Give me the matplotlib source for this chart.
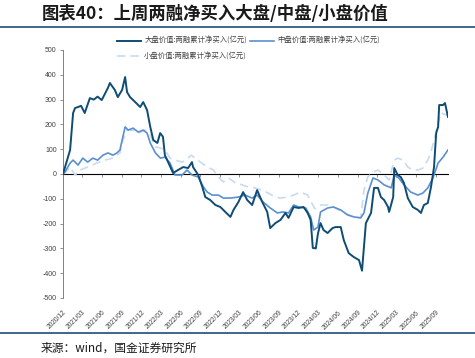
import matplotlib
matplotlib.use("Agg")
import matplotlib.pyplot as plt
import pandas as pd

plt.rcParams['font.family'] = ['Noto Sans CJK SC', 'DejaVu Sans']

title = "图表40：上周两融净买入大盘/中盘/小盘价值"
source = "来源：wind，国金证券研究所"
names = ["大盘价值:两融累计净买入(亿元)", "中盘价值:两融累计净买入(亿元)", "小盘价值:两融累计净买入(亿元)"]

large_dates = ["2020-12-01","2021-01-03","2021-01-17","2021-01-26","2021-02-09","2021-02-23","2021-03-12",
               "2021-04-05","2021-04-23","2021-05-11","2021-05-30","2021-06-28","2021-07-07","2021-07-30",
               "2021-08-13","2021-09-02","2021-09-16","2021-09-25","2021-10-09","2021-11-02","2021-11-25",
               "2021-12-09","2021-12-27","2022-01-11","2022-01-25","2022-02-13","2022-02-26","2022-03-11",
               "2022-03-20","2022-04-04","2022-04-27","2022-05-20","2022-06-13","2022-07-06","2022-07-24",
               "2022-07-29","2022-08-22","2022-09-10","2022-09-24","2022-10-17","2022-11-10","2022-12-03",
               "2022-12-26","2023-01-19","2023-02-02","2023-02-25","2023-03-19","2023-04-07","2023-04-30",
               "2023-05-23","2023-06-16","2023-07-09","2023-07-23","2023-08-16","2023-09-09","2023-10-02",
               "2023-10-16","2023-11-09","2023-12-02","2023-12-25","2024-01-13","2024-01-27","2024-02-06",
               "2024-02-20","2024-03-01","2024-03-13","2024-03-27","2024-04-15","2024-05-08","2024-05-22",
               "2024-06-15","2024-06-29","2024-07-22","2024-08-15","2024-09-08","2024-09-22","2024-10-10",
               "2024-11-03","2024-11-17","2024-12-05","2024-12-19","2025-01-03","2025-01-21","2025-01-26",
               "2025-02-14","2025-02-19","2025-03-07","2025-03-21","2025-04-05","2025-04-23","2025-05-16",
               "2025-06-09","2025-06-23","2025-07-07","2025-07-25","2025-08-09","2025-08-23","2025-09-02",
               "2025-09-11","2025-09-16","2025-10-04","2025-10-13","2025-10-27"]
large_vals = [0,97,246,266,270,275,246,
              306,300,312,298,347,367,339,
              310,339,391,330,310,290,270,
              290,258,190,137,125,165,150,
              76,48,4,16,28,24,48,
              28,-4,-52,-93,-105,-125,-133,
              -153,-173,-145,-113,-73,-105,-125,
              -65,-113,-153,-218,-198,-185,-157,
              -177,-133,-137,-133,-157,-185,-298,
              -300,-240,-198,-226,-238,-218,-214,
              -214,-266,-319,-335,-347,-390,-198,
              -157,-56,-56,-93,-105,-133,-153,
              -93,24,-4,-12,-36,-97,-133,
              -145,-157,-125,-117,-52,28,165,
              190,278,278,286,230]

mid_dates = ["2020-12-01","2020-12-10","2021-01-03","2021-01-17","2021-02-09","2021-03-03","2021-03-26",
             "2021-04-19","2021-05-11","2021-06-05","2021-06-28","2021-07-21","2021-08-09","2021-08-23",
             "2021-09-02","2021-09-16","2021-09-30","2021-10-23","2021-11-16","2021-12-09","2021-12-27",
             "2022-01-11","2022-02-04","2022-02-27","2022-03-20","2022-04-13","2022-05-06","2022-06-08",
             "2022-07-01","2022-07-24","2022-08-22","2022-09-15","2022-10-03","2022-10-26","2022-11-24",
             "2022-12-17","2023-01-19","2023-02-25","2023-03-28","2023-04-30","2023-05-23","2023-06-20",
             "2023-07-23","2023-08-25","2023-09-22","2023-10-16","2023-11-09","2023-12-02","2024-01-04",
             "2024-01-27","2024-02-10","2024-03-01","2024-03-13","2024-04-15","2024-05-12","2024-06-15",
             "2024-07-17","2024-08-15","2024-09-16","2024-10-01","2024-10-19","2024-11-12","2024-12-05",
             "2025-01-03","2025-02-05","2025-02-19","2025-03-12","2025-04-05","2025-05-07","2025-06-09",
             "2025-07-02","2025-07-25","2025-08-18","2025-09-11","2025-10-04","2025-10-27"]
mid_vals = [0,8,44,56,36,64,48,
            64,56,76,85,76,85,97,
            137,190,177,185,169,177,165,
            125,85,64,68,44,-4,-4,
            16,-4,-12,-52,-73,-85,-85,
            -97,-97,-93,-85,-97,-85,-113,
            -137,-157,-153,-157,-125,-133,-137,
            -173,-226,-214,-153,-137,-133,-145,
            -165,-173,-177,-157,-77,-16,-24,
            -44,-56,-4,-16,-44,-73,-85,
            -77,-56,-16,44,68,97]

small_dates = ["2020-12-01","2020-12-10","2021-01-03","2021-01-26","2021-02-18","2021-03-26","2021-05-06",
               "2021-06-13","2021-07-21","2021-08-23","2021-09-06","2021-09-25","2021-10-23","2021-11-16",
               "2021-12-18","2022-01-11","2022-02-04","2022-02-27","2022-03-20","2022-04-13","2022-05-06",
               "2022-06-08","2022-07-06","2022-07-20","2022-08-08","2022-09-01","2022-10-03","2022-11-01",
               "2022-11-24","2022-12-17","2023-01-10","2023-02-11","2023-03-14","2023-04-11","2023-05-14",
               "2023-06-16","2023-07-14","2023-08-16","2023-09-09","2023-10-11","2023-11-09","2023-12-11",
               "2024-01-13","2024-02-06","2024-02-15","2024-03-13","2024-04-15","2024-05-12","2024-06-29",
               "2024-08-15","2024-09-16","2024-10-01","2024-10-19","2024-11-12","2024-12-05","2025-01-03",
               "2025-01-26","2025-02-19","2025-03-07","2025-04-01","2025-04-23","2025-05-16","2025-06-09",
               "2025-07-02","2025-07-25","2025-08-09","2025-08-23","2025-09-11","2025-09-25","2025-10-18",
               "2025-10-27"]
small_vals = [0,4,28,-4,16,28,44,
              56,64,85,137,177,177,165,
              177,157,109,105,97,64,56,
              48,64,76,64,48,28,16,
              -12,-32,-16,-36,-44,-52,-56,
              -65,-77,-93,-97,-93,-85,-73,
              -85,-125,-140,-125,-125,-133,-157,
              -173,-177,-65,-12,8,16,-4,
              -24,56,64,56,28,16,16,
              24,56,89,137,206,246,238,
              250]

tick_labels = ["2020/12","2021/03","2021/06","2021/09","2021/12","2022/03","2022/06","2022/09",
               "2022/12","2023/03","2023/06","2023/09","2023/12","2024/03","2024/06","2024/09",
               "2024/12","2025/03","2025/06","2025/09"]
y_ticks = [-500,-400,-300,-200,-100,0,100,200,300,400,500]

c_large = "#0e4c74"
c_mid = "#5b8fd0"
c_small = "#c8dbf1"

fig = plt.figure(figsize=(4.75, 3.58), dpi=100)
ax = fig.add_axes([63/475, 1-298/358, (448-63)/475, (298-50)/358])

ld = pd.to_datetime(large_dates)
md = pd.to_datetime(mid_dates)
sd = pd.to_datetime(small_dates)

h_small, = ax.plot(sd, small_vals, color=c_small, lw=1.2, ls=(0, (5, 3)), label=names[2], zorder=2)
h_mid, = ax.plot(md, mid_vals, color=c_mid, lw=1.2, label=names[1], zorder=3)
h_large, = ax.plot(ld, large_vals, color=c_large, lw=1.4, label=names[0], zorder=4)

ax.set_ylim(-500, 500)
ax.set_xlim(pd.Timestamp("2020-12-01"), ld.max())
ax.set_yticks(y_ticks)
ax.set_yticklabels([str(v) for v in y_ticks], fontsize=5, color="#404040", family="Liberation Sans")

ticks = pd.to_datetime([t.replace("/", "-") + "-01" for t in tick_labels])
ax.set_xticks(ticks)
ax.set_xticklabels(tick_labels, rotation=45, ha="right", rotation_mode="anchor",
                   fontsize=4.8, color="#404040", family="Liberation Sans")
ax.tick_params(axis="x", length=0, pad=8)
ax.tick_params(axis="y", length=2.5, width=0.6, color="#808080", pad=2)

for s in ["top", "right", "bottom"]:
    ax.spines[s].set_visible(False)
ax.spines["left"].set_color("#808080")
ax.spines["left"].set_linewidth(0.7)

sec = ax.secondary_xaxis(0.5)
sec.set_xticks(ticks)
sec.set_xticklabels([])
sec.tick_params(axis="x", direction="in", length=2.5, width=0.6, color="#808080")
sec.spines["bottom"].set_color("#808080")
sec.spines["bottom"].set_linewidth(0.8)

leg = fig.legend([h_large, h_small, h_mid], [names[0], names[2], names[1]],
                 loc="upper left", bbox_to_anchor=(117/475, 1-37/358), ncol=2,
                 frameon=False, fontsize=5.3, handlelength=3.3, handletextpad=0.4,
                 columnspacing=0.4, labelspacing=1.0, borderaxespad=0, borderpad=0)
for t in leg.get_texts():
    t.set_color("#404040")

fig.text(42/475, 1-14/358, title, fontsize=12.5, fontweight="bold", color="#1a1a1a",
         va="center", ha="left")
fig.add_artist(plt.Line2D([0, 1], [1-27/358, 1-27/358], color="#1f4e79", lw=1.2))
fig.add_artist(plt.Line2D([0, 1], [1-333/358, 1-333/358], color="#1f4e79", lw=1.2))
fig.text(41/475, 1-348/358, source, fontsize=8.5, color="#1a1a1a", va="center", ha="left")

fig.savefig("out.png", dpi=100)
